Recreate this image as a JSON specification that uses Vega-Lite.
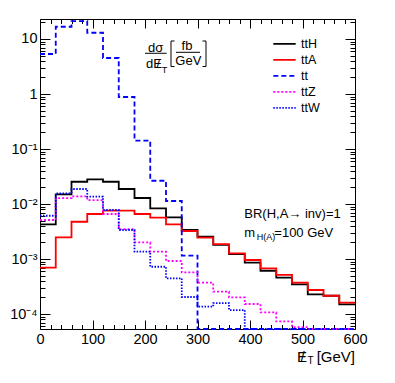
{
  "$schema": "https://vega.github.io/schema/vega-lite/v6.json",
  "autosize": "none",
  "width": 315,
  "height": 310,
  "padding": {"left": 40, "top": 19, "right": 40, "bottom": 54},
  "background": "white",
  "config": {
    "view": {"stroke": "#000000", "strokeWidth": 1},
    "font": "Liberation Sans",
    "axis": {"grid": false, "domain": false, "tickColor": "#000000", "tickWidth": 1, "labelColor": "#000000", "labelFont": "Liberation Sans", "title": null},
    "text": {"font": "Liberation Sans", "color": "#000000"}
  },
  "data": {
    "values": [
      {"proc": "ttH", "met": 0, "xs": 0.00428}, {"proc": "ttH", "met": 30, "xs": 0.0150}, {"proc": "ttH", "met": 60, "xs": 0.0254}, {"proc": "ttH", "met": 90, "xs": 0.0281}, {"proc": "ttH", "met": 120, "xs": 0.0254}, {"proc": "ttH", "met": 150, "xs": 0.01875}, {"proc": "ttH", "met": 180, "xs": 0.01285}, {"proc": "ttH", "met": 210, "xs": 0.00835}, {"proc": "ttH", "met": 240, "xs": 0.00573}, {"proc": "ttH", "met": 270, "xs": 0.00337}, {"proc": "ttH", "met": 300, "xs": 0.00254}, {"proc": "ttH", "met": 330, "xs": 0.0018}, {"proc": "ttH", "met": 360, "xs": 0.00123}, {"proc": "ttH", "met": 390, "xs": 0.00086}, {"proc": "ttH", "met": 420, "xs": 0.000612}, {"proc": "ttH", "met": 450, "xs": 0.000457}, {"proc": "ttH", "met": 480, "xs": 0.000347}, {"proc": "ttH", "met": 510, "xs": 0.000228}, {"proc": "ttH", "met": 540, "xs": 0.000215}, {"proc": "ttH", "met": 570, "xs": 0.00015}, {"proc": "ttH", "met": 600, "xs": 0.00015},
      {"proc": "ttA", "met": 0, "xs": 0.000695}, {"proc": "ttA", "met": 30, "xs": 0.00248}, {"proc": "ttA", "met": 60, "xs": 0.00476}, {"proc": "ttA", "met": 90, "xs": 0.00658}, {"proc": "ttA", "met": 120, "xs": 0.00755}, {"proc": "ttA", "met": 150, "xs": 0.00755}, {"proc": "ttA", "met": 180, "xs": 0.00658}, {"proc": "ttA", "met": 210, "xs": 0.00564}, {"proc": "ttA", "met": 240, "xs": 0.00428}, {"proc": "ttA", "met": 270, "xs": 0.00323}, {"proc": "ttA", "met": 300, "xs": 0.00244}, {"proc": "ttA", "met": 330, "xs": 0.00187}, {"proc": "ttA", "met": 360, "xs": 0.00127}, {"proc": "ttA", "met": 390, "xs": 0.00096}, {"proc": "ttA", "met": 420, "xs": 0.000676}, {"proc": "ttA", "met": 450, "xs": 0.000513}, {"proc": "ttA", "met": 480, "xs": 0.000372}, {"proc": "ttA", "met": 510, "xs": 0.000273}, {"proc": "ttA", "met": 540, "xs": 0.000215}, {"proc": "ttA", "met": 570, "xs": 0.000161}, {"proc": "ttA", "met": 600, "xs": 0.000161},
      {"proc": "tt", "met": 0, "xs": 5.34}, {"proc": "tt", "met": 30, "xs": 16.7}, {"proc": "tt", "met": 60, "xs": 21.2}, {"proc": "tt", "met": 90, "xs": 13.0}, {"proc": "tt", "met": 120, "xs": 4.51}, {"proc": "tt", "met": 150, "xs": 0.882}, {"proc": "tt", "met": 180, "xs": 0.1416}, {"proc": "tt", "met": 210, "xs": 0.0265}, {"proc": "tt", "met": 240, "xs": 0.01135}, {"proc": "tt", "met": 270, "xs": 0.00115}, {"proc": "tt", "met": 300, "xs": 0.0000534}, {"proc": "tt", "met": 330, "xs": 0.0000534}, {"proc": "tt", "met": 360, "xs": 0.0000534}, {"proc": "tt", "met": 390, "xs": 0.0000534}, {"proc": "tt", "met": 420, "xs": 0.0000534}, {"proc": "tt", "met": 450, "xs": 0.0000534}, {"proc": "tt", "met": 480, "xs": 0.0000534}, {"proc": "tt", "met": 510, "xs": 0.0000534}, {"proc": "tt", "met": 540, "xs": 0.0000534}, {"proc": "tt", "met": 570, "xs": 0.0000534}, {"proc": "tt", "met": 600, "xs": 0.0000534},
      {"proc": "ttZ", "met": 0, "xs": 0.00512}, {"proc": "ttZ", "met": 30, "xs": 0.0128}, {"proc": "ttZ", "met": 60, "xs": 0.0138}, {"proc": "ttZ", "met": 90, "xs": 0.0118}, {"proc": "ttZ", "met": 120, "xs": 0.00658}, {"proc": "ttZ", "met": 150, "xs": 0.0035}, {"proc": "ttZ", "met": 180, "xs": 0.002}, {"proc": "ttZ", "met": 210, "xs": 0.00136}, {"proc": "ttZ", "met": 240, "xs": 0.00092}, {"proc": "ttZ", "met": 270, "xs": 0.000573}, {"proc": "ttZ", "met": 300, "xs": 0.000372}, {"proc": "ttZ", "met": 330, "xs": 0.000255}, {"proc": "ttZ", "met": 360, "xs": 0.000201}, {"proc": "ttZ", "met": 390, "xs": 0.000152}, {"proc": "ttZ", "met": 420, "xs": 0.000107}, {"proc": "ttZ", "met": 450, "xs": 0.0000736}, {"proc": "ttZ", "met": 480, "xs": 0.000058}, {"proc": "ttZ", "met": 510, "xs": 0.0000534}, {"proc": "ttZ", "met": 540, "xs": 0.0000534}, {"proc": "ttZ", "met": 570, "xs": 0.0000534}, {"proc": "ttZ", "met": 600, "xs": 0.0000534},
      {"proc": "ttW", "met": 0, "xs": 0.00612}, {"proc": "ttW", "met": 30, "xs": 0.01566}, {"proc": "ttW", "met": 60, "xs": 0.01875}, {"proc": "ttW", "met": 90, "xs": 0.01358}, {"proc": "ttW", "met": 120, "xs": 0.00778}, {"proc": "ttW", "met": 150, "xs": 0.00337}, {"proc": "ttW", "met": 180, "xs": 0.00136}, {"proc": "ttW", "met": 210, "xs": 0.000724}, {"proc": "ttW", "met": 240, "xs": 0.000446}, {"proc": "ttW", "met": 270, "xs": 0.000204}, {"proc": "ttW", "met": 300, "xs": 0.000136}, {"proc": "ttW", "met": 330, "xs": 0.000158}, {"proc": "ttW", "met": 360, "xs": 0.000118}, {"proc": "ttW", "met": 390, "xs": 0.0000534}, {"proc": "ttW", "met": 420, "xs": 0.0000534}, {"proc": "ttW", "met": 450, "xs": 0.0000534}, {"proc": "ttW", "met": 480, "xs": 0.0000534}, {"proc": "ttW", "met": 510, "xs": 0.0000534}, {"proc": "ttW", "met": 540, "xs": 0.0000534}, {"proc": "ttW", "met": 570, "xs": 0.0000534}, {"proc": "ttW", "met": 600, "xs": 0.0000534}
    ]
  },
  "layer": [
    {
      "mark": {"type": "line", "interpolate": "step-after"},
      "encoding": {
        "x": {"field": "met", "type": "quantitative", "scale": {"domain": [0, 600], "nice": false, "zero": false},
              "axis": {"orient": "bottom", "values": [0, 100, 200, 300, 400, 500, 600], "tickSize": -9, "labelFontSize": 14.5, "labelPadding": 12, "labelFlush": false}},
        "y": {"field": "xs", "type": "quantitative", "scale": {"type": "log", "domain": [0.0000534, 23.1], "nice": false},
              "axis": {"orient": "left", "values": [0.0001, 0.001, 0.01, 0.1, 1, 10], "tickSize": -10, "labelFontSize": 14.5, "labelPadding": 13,
                       "labelExpr": "datum.value >= 5 ? '10' : datum.value >= 0.5 ? '1' : datum.value >= 0.05 ? '10⁻¹' : datum.value >= 0.005 ? '10⁻²' : datum.value >= 0.0005 ? '10⁻³' : '10⁻⁴'"}},
        "color": {"field": "proc", "type": "nominal",
                  "scale": {"domain": ["ttH", "ttA", "tt", "ttZ", "ttW"], "range": ["#000000", "#ff0000", "#0000ff", "#ff00ff", "#0000ff"]},
                  "legend": {"orient": "none", "legendX": 232, "legendY": 17, "title": null, "symbolType": "stroke", "symbolSize": 500, "symbolStrokeWidth": 1.5, "labelFontSize": 12.5, "labelFont": "Liberation Sans", "labelColor": "#000000", "labelOffset": 4, "rowPadding": 0, "clipHeight": 15.7, "padding": 0}},
        "strokeDash": {"field": "proc", "type": "nominal",
                       "scale": {"domain": ["ttH", "ttA", "tt", "ttZ", "ttW"], "range": [[1, 0], [1, 0], [5, 3], [2, 2], [1.5, 1.5]]},
                       "legend": {"orient": "none", "legendX": 232, "legendY": 17, "title": null, "symbolType": "stroke", "symbolSize": 500, "symbolStrokeWidth": 1.5, "labelFontSize": 12.5, "labelFont": "Liberation Sans", "labelColor": "#000000", "labelOffset": 4, "rowPadding": 0, "clipHeight": 15.7, "padding": 0}},
        "strokeWidth": {"field": "proc", "type": "nominal", "scale": {"domain": ["ttH", "ttA", "tt", "ttZ", "ttW"], "range": [1.8, 1.8, 1.5, 1.5, 1.5]}, "legend": null}
      }
    },
    {
      "mark": {"type": "point", "opacity": 0},
      "encoding": {
        "x": {"field": "met", "type": "quantitative", "scale": {"domain": [0, 600], "nice": false, "zero": false},
              "axis": {"orient": "bottom", "values": [20, 40, 60, 80, 120, 140, 160, 180, 220, 240, 260, 280, 320, 340, 360, 380, 420, 440, 460, 480, 520, 540, 560, 580], "tickSize": -4.5, "labels": false}},
        "y": {"field": "xs", "type": "quantitative", "scale": {"type": "log", "domain": [0.0000534, 23.1], "nice": false},
              "axis": {"orient": "left", "values": [0.00006, 0.00007, 0.00008, 0.00009, 0.0002, 0.0003, 0.0004, 0.0005, 0.0006, 0.0007, 0.0008, 0.0009, 0.002, 0.003, 0.004, 0.005, 0.006, 0.007, 0.008, 0.009, 0.02, 0.03, 0.04, 0.05, 0.06, 0.07, 0.08, 0.09, 0.2, 0.3, 0.4, 0.5, 0.6, 0.7, 0.8, 0.9, 2, 3, 4, 5, 6, 7, 8, 9, 20], "tickSize": -5, "labels": false}}
      }
    },
    {
      "mark": {"type": "point", "opacity": 0},
      "encoding": {
        "x": {"field": "met", "type": "quantitative", "scale": {"domain": [0, 600], "nice": false, "zero": false},
              "axis": {"orient": "top", "values": [0, 100, 200, 300, 400, 500, 600], "tickSize": -9, "labels": false}},
        "y": {"field": "xs", "type": "quantitative", "scale": {"type": "log", "domain": [0.0000534, 23.1], "nice": false},
              "axis": {"orient": "right", "values": [0.0001, 0.001, 0.01, 0.1, 1, 10], "tickSize": -10, "labels": false}}
      }
    },
    {
      "mark": {"type": "point", "opacity": 0},
      "encoding": {
        "x": {"field": "met", "type": "quantitative", "scale": {"domain": [0, 600], "nice": false, "zero": false},
              "axis": {"orient": "top", "values": [20, 40, 60, 80, 120, 140, 160, 180, 220, 240, 260, 280, 320, 340, 360, 380, 420, 440, 460, 480, 520, 540, 560, 580], "tickSize": -4.5, "labels": false}},
        "y": {"field": "xs", "type": "quantitative", "scale": {"type": "log", "domain": [0.0000534, 23.1], "nice": false},
              "axis": {"orient": "right", "values": [0.00006, 0.00007, 0.00008, 0.00009, 0.0002, 0.0003, 0.0004, 0.0005, 0.0006, 0.0007, 0.0008, 0.0009, 0.002, 0.003, 0.004, 0.005, 0.006, 0.007, 0.008, 0.009, 0.02, 0.03, 0.04, 0.05, 0.06, 0.07, 0.08, 0.09, 0.2, 0.3, 0.4, 0.5, 0.6, 0.7, 0.8, 0.9, 2, 3, 4, 5, 6, 7, 8, 9, 20], "tickSize": -5, "labels": false}}
      }
    },
    {"data": {"values": [{}]}, "mark": {"type": "text", "text": "dσ", "fontSize": 13, "align": "center", "baseline": "middle"},
     "encoding": {"x": {"datum": 220.4, "axis": null}, "y": {"datum": 6.95, "axis": null}}},
    {"data": {"values": [{}]}, "mark": {"type": "text", "text": "dE", "fontSize": 13, "align": "center", "baseline": "middle"},
     "encoding": {"x": {"datum": 217, "axis": null}, "y": {"datum": 3.44, "axis": null}}},
    {"data": {"values": [{}]}, "mark": {"type": "text", "text": "/", "fontSize": 13, "align": "center", "baseline": "middle"},
     "encoding": {"x": {"datum": 225.5, "axis": null}, "y": {"datum": 3.44, "axis": null}}},
    {"data": {"values": [{}]}, "mark": {"type": "text", "text": "T", "fontSize": 9, "align": "center", "baseline": "middle"},
     "encoding": {"x": {"datum": 237, "axis": null}, "y": {"datum": 2.675, "axis": null}}},
    {"data": {"values": [{}]}, "mark": {"type": "text", "text": "fb", "fontSize": 13, "align": "center", "baseline": "middle"},
     "encoding": {"x": {"datum": 280, "axis": null}, "y": {"datum": 7.46, "axis": null}}},
    {"data": {"values": [{}]}, "mark": {"type": "text", "text": "GeV", "fontSize": 13, "align": "center", "baseline": "middle"},
     "encoding": {"x": {"datum": 282.5, "axis": null}, "y": {"datum": 4.03, "axis": null}}},
    {"data": {"values": [{}]}, "mark": {"type": "rule", "color": "#000000", "strokeWidth": 1},
     "encoding": {"x": {"datum": 200, "axis": null}, "x2": {"datum": 241.3}, "y": {"datum": 5.5, "axis": null}}},
    {"data": {"values": [{}]}, "mark": {"type": "rule", "color": "#000000", "strokeWidth": 1},
     "encoding": {"x": {"datum": 259, "axis": null}, "x2": {"datum": 304.8}, "y": {"datum": 5.73, "axis": null}}},
    {"data": {"values": [{}]}, "mark": {"type": "rule", "color": "#000000", "strokeWidth": 1},
     "encoding": {"x": {"datum": 249.5, "axis": null}, "y": {"datum": 9.2, "axis": null}, "y2": {"datum": 3.16}}},
    {"data": {"values": [{}]}, "mark": {"type": "rule", "color": "#000000", "strokeWidth": 1},
     "encoding": {"x": {"datum": 249.5, "axis": null}, "x2": {"datum": 256.2}, "y": {"datum": 9.2, "axis": null}}},
    {"data": {"values": [{}]}, "mark": {"type": "rule", "color": "#000000", "strokeWidth": 1},
     "encoding": {"x": {"datum": 249.5, "axis": null}, "x2": {"datum": 256.2}, "y": {"datum": 3.16, "axis": null}}},
    {"data": {"values": [{}]}, "mark": {"type": "rule", "color": "#000000", "strokeWidth": 1},
     "encoding": {"x": {"datum": 316.2, "axis": null}, "y": {"datum": 9.2, "axis": null}, "y2": {"datum": 3.16}}},
    {"data": {"values": [{}]}, "mark": {"type": "rule", "color": "#000000", "strokeWidth": 1},
     "encoding": {"x": {"datum": 309.5, "axis": null}, "x2": {"datum": 316.2}, "y": {"datum": 9.2, "axis": null}}},
    {"data": {"values": [{}]}, "mark": {"type": "rule", "color": "#000000", "strokeWidth": 1},
     "encoding": {"x": {"datum": 309.5, "axis": null}, "x2": {"datum": 316.2}, "y": {"datum": 3.16, "axis": null}}},
    {"data": {"values": [{}]}, "mark": {"type": "text", "text": "BR(H,A→ inv)=1", "fontSize": 13, "align": "left", "baseline": "middle"},
     "encoding": {"x": {"datum": 389.1, "axis": null}, "y": {"datum": 0.0065, "axis": null}}},
    {"data": {"values": [{}]}, "mark": {"type": "text", "text": "m", "fontSize": 13, "align": "left", "baseline": "middle"},
     "encoding": {"x": {"datum": 389.1, "axis": null}, "y": {"datum": 0.00297, "axis": null}}},
    {"data": {"values": [{}]}, "mark": {"type": "text", "text": "H(A)", "fontSize": 9, "align": "left", "baseline": "middle"},
     "encoding": {"x": {"datum": 412.8, "axis": null}, "y": {"datum": 0.00251, "axis": null}}},
    {"data": {"values": [{}]}, "mark": {"type": "text", "text": "=100 GeV", "fontSize": 13, "align": "left", "baseline": "middle"},
     "encoding": {"x": {"datum": 446.3, "axis": null}, "y": {"datum": 0.00297, "axis": null}}},
    {"data": {"values": [{}]}, "mark": {"type": "text", "text": "E", "fontSize": 15, "align": "center", "baseline": "middle"},
     "encoding": {"x": {"datum": 499, "axis": null}, "y": {"datum": 0.0000165, "axis": null}}},
    {"data": {"values": [{}]}, "mark": {"type": "text", "text": "/", "fontSize": 15, "align": "center", "baseline": "middle"},
     "encoding": {"x": {"datum": 500, "axis": null}, "y": {"datum": 0.0000165, "axis": null}}},
    {"data": {"values": [{}]}, "mark": {"type": "text", "text": "T", "fontSize": 10, "align": "left", "baseline": "middle"},
     "encoding": {"x": {"datum": 509.5, "axis": null}, "y": {"datum": 0.0000138, "axis": null}}},
    {"data": {"values": [{}]}, "mark": {"type": "text", "text": "[GeV]", "fontSize": 15, "align": "right", "baseline": "middle"},
     "encoding": {"x": {"datum": 600, "axis": null}, "y": {"datum": 0.0000165, "axis": null}}}
  ],
  "resolve": {"axis": {"x": "independent", "y": "independent"}}
}
